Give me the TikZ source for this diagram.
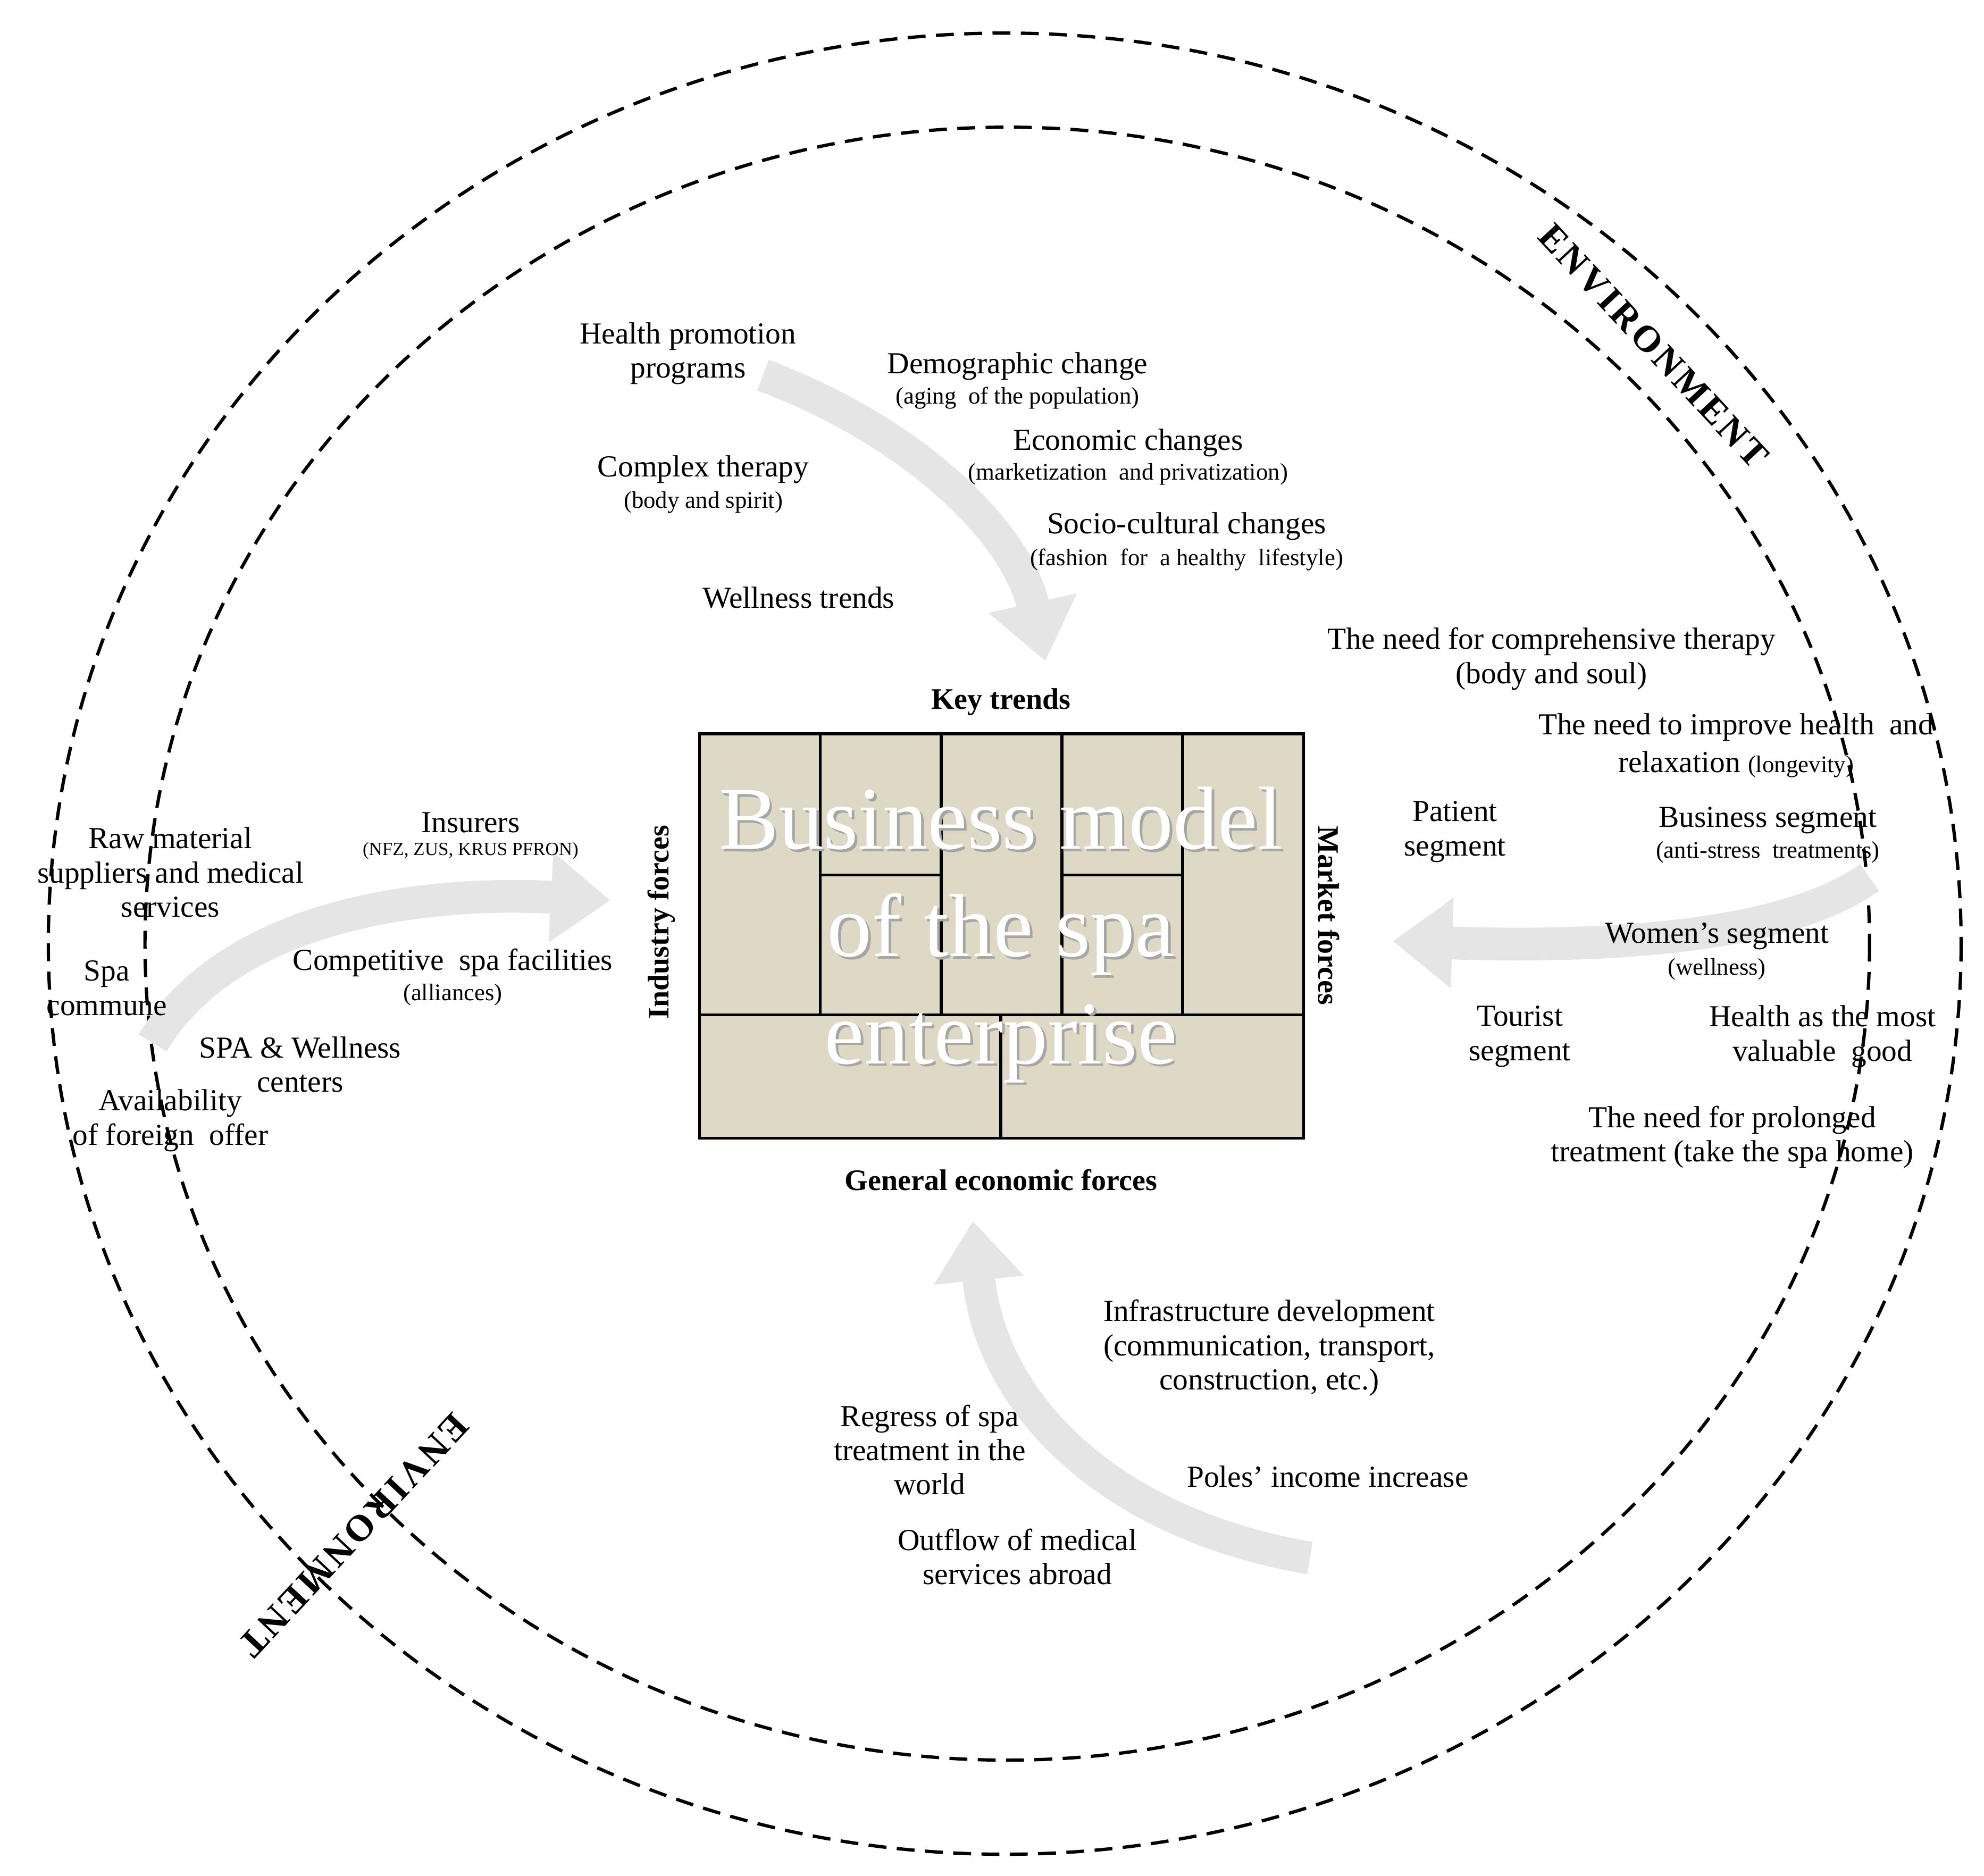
\documentclass[tikz,border=0pt]{standalone}
\usepackage{fontspec}
\setmainfont{Liberation Serif}
\usetikzlibrary{arrows.meta}
\begin{document}
\begin{tikzpicture}[x=0.03cm,y=-0.03cm,
 lab/.style={align=center,font=\fontsize{20.5}{23}\selectfont,inner sep=0},
 sm/.style={align=center,font=\fontsize{16}{18}\selectfont,inner sep=0},
 bold/.style={font=\bfseries\fontsize{20}{22}\selectfont,inner sep=0},
 env/.style={font=\bfseries\fontsize{25}{27}\selectfont\addfontfeature{LetterSpace=8},inner sep=0},
 dashring/.style={line width=2.2pt,dash pattern=on 12pt off 7pt},
 cell/.style={draw,line width=2pt},
 bigarrow/.style={line width=22pt,gray!20,-{Triangle[length=40pt,width=58pt]}}]
\useasboundingbox (0,0) rectangle (1560,1475);
\draw[dashring] (790,742) ellipse [x radius=752,y radius=716];
\draw[dashring] (792,742) ellipse [x radius=678,y radius=642];
\node[env,rotate=-47] (e1) at (1300,272) {ENVIRONMENT};
\node[env,rotate=-133] (e2) at (278,1207) {ENVIRONMENT};
% box
\fill[fill={rgb,255:red,221;green,217;blue,196}] (550,577) rectangle (1025,895);
\draw[cell] (550,577) rectangle (1025,895);
\foreach \x in {645,740,835,930} \draw[cell] (\x,577) -- (\x,798);
\draw[cell] (645,688) -- (740,688);
\draw[cell] (835,688) -- (930,688);
\draw[cell] (550,798) -- (1025,798);
\draw[cell] (787,798) -- (787,895);
\node[align=center,text=gray!70,font=\fontsize{60}{72}\selectfont,inner sep=0] (titleshadow) at (789,737) {Business model\\of the spa\\enterprise};
\node[align=center,text=white,font=\fontsize{60}{72}\selectfont,inner sep=0] (title) at (787,735) {Business model\\of the spa\\enterprise};
\node[bold] (kt) at (787,552) {Key trends};
\node[bold] (gef) at (787,928) {General economic forces};
\node[bold,rotate=90] (inf) at (520,725) {Industry forces};
\node[bold,rotate=-90] (mf) at (1045,720) {Market forces};
% arrows
\draw[bigarrow] (600,295) .. controls (720,340) and (800,420) .. (822,520);
\draw[bigarrow] (120,820) .. controls (180,720) and (330,700) .. (480,708);
\draw[bigarrow] (1470,690) .. controls (1400,740) and (1250,745) .. (1095,740);
\draw[bigarrow] (1030,1225) .. controls (880,1200) and (780,1110) .. (765,960);
% top texts
\node[lab] (t1) at (541,278) {Health promotion\\programs};
\node[lab] (t2) at (800,288) {Demographic change};
\node[sm] (t2b) at (800,313) {(aging\ \ of the population)};
\node[lab] (t3) at (887,348) {Economic changes};
\node[sm] (t3b) at (887,373) {(marketization\ \ and privatization)};
\node[lab] (t4) at (553,369) {Complex therapy};
\node[sm] (t4b) at (553,395) {(body and spirit)};
\node[lab] (t5) at (933,414) {Socio-cultural changes};
\node[sm] (t5b) at (933,440) {(fashion\ \ for\ \ a healthy\ \ lifestyle)};
\node[lab] (t6) at (628,470) {Wellness trends};
% left texts
\node[lab] (l1) at (134,686) {Raw material\\suppliers and medical\\services};
\node[lab] (l2) at (370,647) {Insurers};
\node[font=\fontsize{12.5}{14}\selectfont,inner sep=0] (l2b) at (370,669) {(NFZ, ZUS, KRUS PFRON)};
\node[lab] (l3) at (84,777) {Spa\\commune};
\node[lab] (l4) at (356,757) {Competitive\ \ spa facilities};
\node[sm] (l4b) at (356,782) {(alliances)};
\node[lab] (l5) at (236,837) {SPA \& Wellness\\centers};
\node[lab] (l6) at (134,881) {Availability\\of foreign\ \ offer};
% right texts
\node[lab] (r1) at (1220,518) {The need for comprehensive therapy\\(body and soul)};
\node[lab] (r2) at (1365,572) {The need to improve health\ \ and};
\node[lab] (r2b) at (1365,601) {relaxation \fontsize{16}{18}\selectfont(longevity)};
\node[lab] (r3) at (1144,654) {Patient\\segment};
\node[lab] (r4) at (1390,645) {Business segment};
\node[sm] (r4b) at (1390,670) {(anti-stress\ \ treatments)};
\node[lab] (r5) at (1350,736) {Women's segment};
\node[sm] (r5b) at (1350,762) {(wellness)};
\node[lab] (r6) at (1195,815) {Tourist\\segment};
\node[lab] (r7) at (1433,815) {Health as the most\\valuable\ \ good};
\node[lab] (r8) at (1362,894) {The need for prolonged\\treatment (take the spa home)};
% bottom texts
\node[lab] (b1) at (998,1060) {Infrastructure development\\(communication, transport,\\construction, etc.)};
\node[lab] (b2) at (731,1140) {Regress of spa\\treatment in the\\world};
\node[lab] (b3) at (1044,1161) {Poles' income increase};
\node[lab] (b4) at (800,1224) {Outflow of medical\\services abroad};
\end{tikzpicture}
\end{document}
